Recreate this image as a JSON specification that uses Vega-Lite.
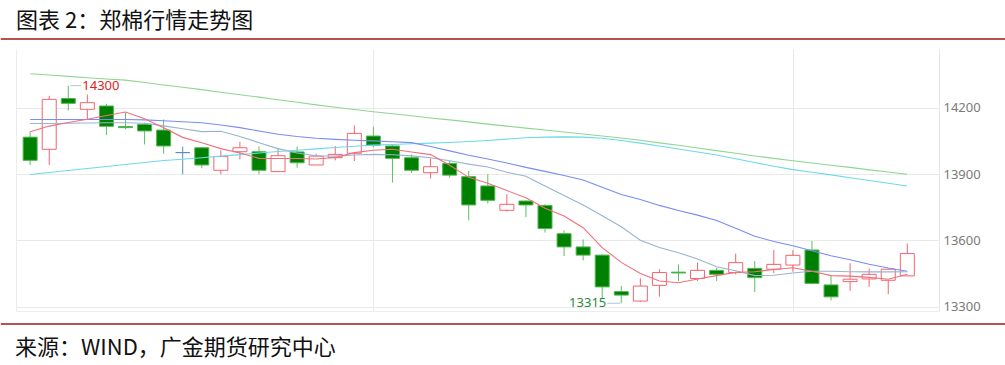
{
  "$schema": "https://vega.github.io/schema/vega-lite/v6.json",
  "padding": {"top": 10, "left": 0, "right": 0, "bottom": 6},
  "columns": 1,
  "align": "none",
  "spacing": 9,
  "bounds": "full",
  "config": {"view": {"stroke": null}, "font": "Noto Sans CJK SC"},
  "datasets": {
    "k": [
      {"i":0,"o":14067,"h":14092,"l":13941,"c":13962,"ma5":14091,"ma10":14129,"ma20":14147,"ma60":13898,"ma120":14354},
      {"i":1,"o":14012,"h":14254,"l":13941,"c":14238,"ma5":14117,"ma10":14129,"ma20":14147,"ma60":13907,"ma120":14348},
      {"i":2,"o":14242,"h":14300,"l":14188,"c":14220,"ma5":14133,"ma10":14130,"ma20":14147,"ma60":13916,"ma120":14342},
      {"i":3,"o":14193,"h":14260,"l":14147,"c":14223,"ma5":14148,"ma10":14131,"ma20":14147,"ma60":13925,"ma120":14336},
      {"i":4,"o":14208,"h":14218,"l":14076,"c":14116,"ma5":14165,"ma10":14132,"ma20":14147,"ma60":13934,"ma120":14330},
      {"i":5,"o":14115,"h":14177,"l":14102,"c":14110,"ma5":14181,"ma10":14132,"ma20":14147,"ma60":13943,"ma120":14325},
      {"i":6,"o":14125,"h":14132,"l":14034,"c":14095,"ma5":14150,"ma10":14130,"ma20":14145,"ma60":13952,"ma120":14314},
      {"i":7,"o":14099,"h":14147,"l":13992,"c":14027,"ma5":14110,"ma10":14118,"ma20":14141,"ma60":13961,"ma120":14303},
      {"i":8,"o":13997,"h":14024,"l":13899,"c":13997,"ma5":14066,"ma10":14105,"ma20":14137,"ma60":13967,"ma120":14293},
      {"i":9,"o":14019,"h":14022,"l":13926,"c":13941,"ma5":14042,"ma10":14092,"ma20":14132,"ma60":13974,"ma120":14282},
      {"i":10,"o":13917,"h":14007,"l":13899,"c":13979,"ma5":14015,"ma10":14094,"ma20":14122,"ma60":13981,"ma120":14270},
      {"i":11,"o":14001,"h":14046,"l":13966,"c":14019,"ma5":13995,"ma10":14070,"ma20":14110,"ma60":13988,"ma120":14259},
      {"i":12,"o":14001,"h":14025,"l":13899,"c":13917,"ma5":13971,"ma10":14042,"ma20":14095,"ma60":13995,"ma120":14248},
      {"i":13,"o":13911,"h":14016,"l":13911,"c":13983,"ma5":13970,"ma10":14015,"ma20":14080,"ma60":14002,"ma120":14236},
      {"i":14,"o":14000,"h":14024,"l":13929,"c":13951,"ma5":13970,"ma10":13995,"ma20":14070,"ma60":14008,"ma120":14225},
      {"i":15,"o":13941,"h":13992,"l":13941,"c":13981,"ma5":13968,"ma10":13983,"ma20":14062,"ma60":14014,"ma120":14213},
      {"i":16,"o":13974,"h":14027,"l":13962,"c":13989,"ma5":13975,"ma10":13981,"ma20":14057,"ma60":14020,"ma120":14202},
      {"i":17,"o":13994,"h":14120,"l":13959,"c":14084,"ma5":13997,"ma10":13986,"ma20":14053,"ma60":14026,"ma120":14192},
      {"i":18,"o":14072,"h":14114,"l":14022,"c":14030,"ma5":14008,"ma10":13989,"ma20":14050,"ma60":14031,"ma120":14182},
      {"i":19,"o":14027,"h":14030,"l":13861,"c":13971,"ma5":14012,"ma10":13987,"ma20":14046,"ma60":14034,"ma120":14173},
      {"i":20,"o":13974,"h":13989,"l":13906,"c":13917,"ma5":14000,"ma10":13982,"ma20":14042,"ma60":14037,"ma120":14164},
      {"i":21,"o":13906,"h":13971,"l":13880,"c":13933,"ma5":13988,"ma10":13974,"ma20":14025,"ma60":14040,"ma120":14154},
      {"i":22,"o":13948,"h":13959,"l":13883,"c":13895,"ma5":13940,"ma10":13960,"ma20":14005,"ma60":14043,"ma120":14145},
      {"i":23,"o":13888,"h":13914,"l":13690,"c":13760,"ma5":13885,"ma10":13945,"ma20":13985,"ma60":14047,"ma120":14136},
      {"i":24,"o":13846,"h":13899,"l":13766,"c":13781,"ma5":13858,"ma10":13932,"ma20":13968,"ma60":14052,"ma120":14126},
      {"i":25,"o":13736,"h":13808,"l":13730,"c":13763,"ma5":13825,"ma10":13908,"ma20":13950,"ma60":14058,"ma120":14117},
      {"i":26,"o":13778,"h":13780,"l":13705,"c":13760,"ma5":13793,"ma10":13890,"ma20":13930,"ma60":14064,"ma120":14108},
      {"i":27,"o":13758,"h":13763,"l":13635,"c":13653,"ma5":13745,"ma10":13846,"ma20":13912,"ma60":14067,"ma120":14099},
      {"i":28,"o":13630,"h":13645,"l":13529,"c":13570,"ma5":13710,"ma10":13803,"ma20":13893,"ma60":14068,"ma120":14090},
      {"i":29,"o":13570,"h":13604,"l":13509,"c":13533,"ma5":13657,"ma10":13760,"ma20":13873,"ma60":14067,"ma120":14081},
      {"i":30,"o":13533,"h":13535,"l":13337,"c":13389,"ma5":13567,"ma10":13711,"ma20":13840,"ma60":14062,"ma120":14072},
      {"i":31,"o":13368,"h":13393,"l":13315,"c":13352,"ma5":13500,"ma10":13661,"ma20":13807,"ma60":14052,"ma120":14063},
      {"i":32,"o":13325,"h":13428,"l":13321,"c":13393,"ma5":13450,"ma10":13600,"ma20":13785,"ma60":14040,"ma120":14053},
      {"i":33,"o":13396,"h":13469,"l":13345,"c":13454,"ma5":13416,"ma10":13567,"ma20":13758,"ma60":14027,"ma120":14041},
      {"i":34,"o":13456,"h":13491,"l":13416,"c":13452,"ma5":13408,"ma10":13544,"ma20":13735,"ma60":14013,"ma120":14030},
      {"i":35,"o":13427,"h":13499,"l":13416,"c":13464,"ma5":13425,"ma10":13515,"ma20":13714,"ma60":14000,"ma120":14018},
      {"i":36,"o":13464,"h":13476,"l":13416,"c":13446,"ma5":13440,"ma10":13480,"ma20":13690,"ma60":13986,"ma120":14006},
      {"i":37,"o":13454,"h":13540,"l":13446,"c":13499,"ma5":13455,"ma10":13462,"ma20":13655,"ma60":13969,"ma120":13994},
      {"i":38,"o":13473,"h":13506,"l":13366,"c":13431,"ma5":13458,"ma10":13440,"ma20":13618,"ma60":13952,"ma120":13982},
      {"i":39,"o":13469,"h":13556,"l":13451,"c":13491,"ma5":13468,"ma10":13442,"ma20":13595,"ma60":13935,"ma120":13971},
      {"i":40,"o":13488,"h":13555,"l":13458,"c":13532,"ma5":13476,"ma10":13452,"ma20":13575,"ma60":13920,"ma120":13960},
      {"i":41,"o":13556,"h":13597,"l":13401,"c":13405,"ma5":13460,"ma10":13460,"ma20":13553,"ma60":13908,"ma120":13950},
      {"i":42,"o":13398,"h":13442,"l":13328,"c":13344,"ma5":13440,"ma10":13460,"ma20":13530,"ma60":13896,"ma120":13940},
      {"i":43,"o":13413,"h":13496,"l":13371,"c":13424,"ma5":13438,"ma10":13458,"ma20":13512,"ma60":13883,"ma120":13930},
      {"i":44,"o":13425,"h":13473,"l":13390,"c":13446,"ma5":13432,"ma10":13457,"ma20":13492,"ma60":13871,"ma120":13919},
      {"i":45,"o":13419,"h":13472,"l":13356,"c":13469,"ma5":13424,"ma10":13457,"ma20":13475,"ma60":13858,"ma120":13909},
      {"i":46,"o":13439,"h":13585,"l":13439,"c":13540,"ma5":13446,"ma10":13458,"ma20":13460,"ma60":13846,"ma120":13899}
    ],
    "ann": [
      {"i":2,"v":14300,"label":"14300","kind":"high"},
      {"i":31,"v":13315,"label":"13315","kind":"low"}
    ]
  },
  "concat": [
    {
      "width": 990,
      "height": 1,
      "title": {"text": "图表 2：郑棉行情走势图", "anchor": "start", "frame": "group", "fontSize": 22, "fontWeight": "normal", "color": "#111111", "offset": 5, "dx": 0, "font": "Noto Sans CJK SC"},
      "data": {"values": [{}]},
      "mark": {"type": "rule", "color": "#a01818", "strokeWidth": 1.5},
      "encoding": {
        "x": {"datum": 0, "type": "quantitative", "scale": {"domain": [0.01515, 1], "nice": false, "zero": false}, "axis": null},
        "x2": {"datum": 1},
        "y": {"datum": 0, "type": "quantitative", "scale": {"domain": [0, 1]}, "axis": null}
      }
    },
    {
      "width": 923,
      "height": 262,
      "data": {"name": "k"},
      "encoding": {
        "x": {"field": "i", "type": "quantitative", "scale": {"domain": [-0.48, 47.4], "nice": false, "zero": false},
          "axis": {"orient": "bottom", "values": [18, 40], "grid": true, "gridColor": "#e9e9e9", "labels": false, "ticks": false, "domain": true, "domainColor": "#ececec", "title": null, "minExtent": 0, "maxExtent": 0}}
      },
      "layer": [
        {
          "mark": {"type": "rule", "strokeWidth": 1},
          "encoding": {
            "y": {"field": "l", "type": "quantitative", "scale": {"domain": [13280, 14466], "nice": false, "zero": false},
              "axis": {"orient": "right", "values": [13300, 13600, 13900, 14200], "format": "d", "grid": true, "gridColor": "#e9e9e9", "ticks": false, "domain": true, "domainColor": "#e6e6e6", "labelColor": "#7a7a7a", "labelFontSize": 13, "labelFont": "Noto Sans", "labelPadding": 4, "title": null}},
            "y2": {"field": "h"},
            "stroke": {"condition": [{"test": "datum.c > datum.o", "value": "#f2646e"}, {"test": "datum.c == datum.o", "value": "#5b8db8"}], "value": "#5dbf5d"}
          }
        },
        {
          "mark": {"type": "bar", "width": 14, "strokeWidth": 1},
          "encoding": {
            "y": {"field": "o", "type": "quantitative",
              "axis": {"orient": "left", "labels": false, "ticks": false, "grid": false, "domain": true, "domainColor": "#ececec", "title": null, "minExtent": 15, "maxExtent": 15}},
            "y2": {"field": "c"},
            "fill": {"condition": [{"test": "datum.c > datum.o", "value": "#ffffff"}, {"test": "datum.c == datum.o", "value": "#5b8db8"}], "value": "#008000"},
            "stroke": {"condition": [{"test": "datum.c > datum.o", "value": "#f2646e"}, {"test": "datum.c == datum.o", "value": "#5b8db8"}], "value": "#52b752"}
          }
        },
        {"mark": {"type": "line", "color": "#8fd68f", "strokeWidth": 1.1}, "encoding": {"y": {"field": "ma120", "type": "quantitative", "axis": null}}},
        {"mark": {"type": "line", "color": "#6dd9ea", "strokeWidth": 1.1}, "encoding": {"y": {"field": "ma60", "type": "quantitative", "axis": null}}},
        {"mark": {"type": "line", "color": "#7a8cf2", "strokeWidth": 1.1}, "encoding": {"y": {"field": "ma20", "type": "quantitative", "axis": null}}},
        {"mark": {"type": "line", "color": "#98b4d0", "strokeWidth": 1.1}, "encoding": {"y": {"field": "ma10", "type": "quantitative", "axis": null}}},
        {"mark": {"type": "line", "color": "#f0707e", "strokeWidth": 1.1}, "encoding": {"y": {"field": "ma5", "type": "quantitative", "axis": null}}},
        {
          "data": {"name": "ann"},
          "transform": [{"filter": "datum.kind == 'high'"}],
          "mark": {"type": "rule", "color": "#a9c9dc", "strokeWidth": 1, "xOffset": 2, "x2Offset": 13},
          "encoding": {"x2": {"field": "i"}, "y": {"field": "v", "type": "quantitative", "axis": null}}
        },
        {
          "data": {"name": "ann"},
          "transform": [{"filter": "datum.kind == 'low'"}],
          "mark": {"type": "rule", "color": "#a9c9dc", "strokeWidth": 1, "xOffset": -1, "x2Offset": -14},
          "encoding": {"x2": {"field": "i"}, "y": {"field": "v", "type": "quantitative", "axis": null}}
        },
        {
          "data": {"name": "ann"},
          "transform": [{"filter": "datum.kind == 'high'"}],
          "mark": {"type": "text", "align": "left", "baseline": "middle", "dx": 14, "fontSize": 13, "font": "Noto Sans", "color": "#dd2222"},
          "encoding": {"y": {"field": "v", "type": "quantitative", "axis": null}, "text": {"field": "label"}}
        },
        {
          "data": {"name": "ann"},
          "transform": [{"filter": "datum.kind == 'low'"}],
          "mark": {"type": "text", "align": "right", "baseline": "middle", "dx": -15, "fontSize": 13, "font": "Noto Sans", "color": "#2a8a3a"},
          "encoding": {"y": {"field": "v", "type": "quantitative", "axis": null}, "text": {"field": "label"}}
        }
      ],
      "resolve": {"axis": {"y": "independent"}}
    },
    {
      "width": 990,
      "height": 1,
      "title": {"text": "来源：WIND，广金期货研究中心", "orient": "bottom", "anchor": "start", "frame": "group", "fontSize": 22, "fontWeight": "normal", "color": "#111111", "offset": 10, "dx": -1, "font": "Noto Sans CJK SC"},
      "data": {"values": [{}]},
      "mark": {"type": "rule", "color": "#a01818", "strokeWidth": 1.5, "yOffset": -3},
      "encoding": {
        "x": {"datum": 0, "type": "quantitative", "scale": {"domain": [0.01515, 1], "nice": false, "zero": false}, "axis": null},
        "x2": {"datum": 1},
        "y": {"datum": 1, "type": "quantitative", "scale": {"domain": [0, 1]}, "axis": null}
      }
    }
  ]
}
